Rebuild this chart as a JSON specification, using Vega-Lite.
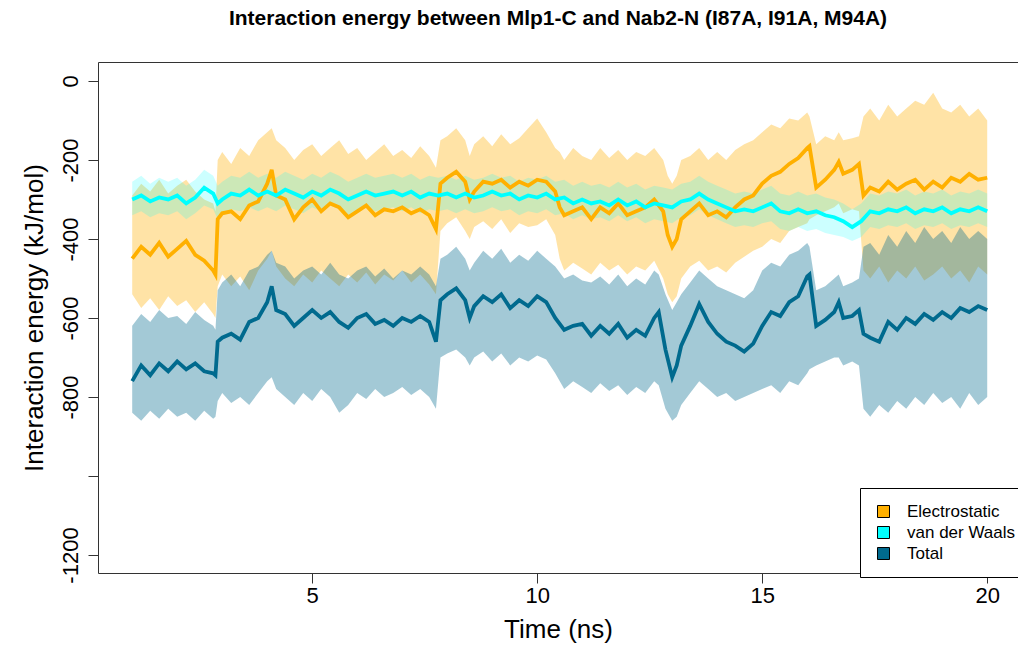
{
  "$schema": "https://vega.github.io/schema/vega-lite/v6.json",
  "autosize": {"type": "none"},
  "padding": {"left": 98, "top": 62, "right": 0, "bottom": 86},
  "width": 920,
  "height": 511,
  "background": "white",
  "title": {
    "text": "Interaction energy between Mlp1-C and Nab2-N (I87A, I91A, M94A)",
    "fontSize": 21,
    "fontWeight": "bold",
    "font": "Liberation Sans",
    "color": "black",
    "anchor": "middle",
    "frame": "group",
    "offset": 33
  },
  "config": {
    "font": "Liberation Sans",
    "view": {"stroke": "#333", "strokeWidth": 1},
    "axis": {"grid": false, "domain": false, "tickColor": "#333", "tickSize": 10, "labelColor": "black", "titleColor": "black", "titleFontWeight": "normal", "labelFont": "Liberation Sans", "titleFont": "Liberation Sans"}
  },
  "datasets": {
    "elec": [
      {"t":1.0,"y":-450,"lo":-540,"hi":-290},{"t":1.2,"y":-420,"lo":-575,"hi":-260},{"t":1.4,"y":-440,"lo":-550,"hi":-280},{"t":1.6,"y":-410,"lo":-580,"hi":-250},{"t":1.8,"y":-445,"lo":-545,"hi":-285},{"t":2.0,"y":-425,"lo":-570,"hi":-265},{"t":2.2,"y":-405,"lo":-555,"hi":-250},{"t":2.4,"y":-440,"lo":-585,"hi":-280},{"t":2.6,"y":-455,"lo":-560,"hi":-300},{"t":2.8,"y":-480,"lo":-590,"hi":-310},{"t":2.85,"y":-490,"lo":-600,"hi":-330},{"t":2.9,"y":-350,"lo":-520,"hi":-200},{"t":3.0,"y":-335,"lo":-490,"hi":-180},{"t":3.2,"y":-330,"lo":-520,"hi":-210},{"t":3.4,"y":-350,"lo":-495,"hi":-170},{"t":3.6,"y":-315,"lo":-530,"hi":-190},{"t":3.8,"y":-305,"lo":-480,"hi":-150},{"t":4.0,"y":-260,"lo":-450,"hi":-130},{"t":4.1,"y":-225,"lo":-430,"hi":-120},{"t":4.2,"y":-290,"lo":-470,"hi":-150},{"t":4.4,"y":-300,"lo":-500,"hi":-170},{"t":4.6,"y":-350,"lo":-520,"hi":-200},{"t":4.8,"y":-320,"lo":-490,"hi":-175},{"t":5.0,"y":-300,"lo":-510,"hi":-160},{"t":5.2,"y":-330,"lo":-480,"hi":-190},{"t":5.4,"y":-310,"lo":-500,"hi":-170},{"t":5.6,"y":-320,"lo":-520,"hi":-150},{"t":5.8,"y":-345,"lo":-490,"hi":-185},{"t":6.0,"y":-330,"lo":-510,"hi":-170},{"t":6.2,"y":-315,"lo":-485,"hi":-200},{"t":6.4,"y":-340,"lo":-515,"hi":-180},{"t":6.6,"y":-325,"lo":-490,"hi":-160},{"t":6.8,"y":-330,"lo":-505,"hi":-190},{"t":7.0,"y":-320,"lo":-480,"hi":-175},{"t":7.2,"y":-335,"lo":-510,"hi":-195},{"t":7.4,"y":-325,"lo":-490,"hi":-165},{"t":7.6,"y":-340,"lo":-515,"hi":-190},{"t":7.75,"y":-375,"lo":-540,"hi":-220},{"t":7.85,"y":-260,"lo":-380,"hi":-150},{"t":8.0,"y":-245,"lo":-360,"hi":-140},{"t":8.2,"y":-230,"lo":-345,"hi":-120},{"t":8.4,"y":-255,"lo":-380,"hi":-150},{"t":8.5,"y":-300,"lo":-400,"hi":-190},{"t":8.6,"y":-280,"lo":-370,"hi":-160},{"t":8.8,"y":-255,"lo":-355,"hi":-140},{"t":9.0,"y":-260,"lo":-375,"hi":-165},{"t":9.2,"y":-250,"lo":-350,"hi":-135},{"t":9.4,"y":-270,"lo":-385,"hi":-160},{"t":9.6,"y":-255,"lo":-360,"hi":-145},{"t":9.8,"y":-265,"lo":-370,"hi":-120},{"t":10.0,"y":-250,"lo":-365,"hi":-95},{"t":10.2,"y":-255,"lo":-350,"hi":-130},{"t":10.4,"y":-280,"lo":-390,"hi":-170},{"t":10.5,"y":-320,"lo":-450,"hi":-180},{"t":10.6,"y":-340,"lo":-480,"hi":-200},{"t":10.8,"y":-330,"lo":-460,"hi":-170},{"t":11.0,"y":-320,"lo":-475,"hi":-190},{"t":11.2,"y":-350,"lo":-490,"hi":-200},{"t":11.4,"y":-320,"lo":-460,"hi":-170},{"t":11.6,"y":-335,"lo":-480,"hi":-195},{"t":11.8,"y":-310,"lo":-465,"hi":-175},{"t":12.0,"y":-340,"lo":-490,"hi":-200},{"t":12.2,"y":-330,"lo":-470,"hi":-180},{"t":12.4,"y":-320,"lo":-480,"hi":-190},{"t":12.6,"y":-300,"lo":-455,"hi":-170},{"t":12.8,"y":-330,"lo":-500,"hi":-200},{"t":12.9,"y":-390,"lo":-540,"hi":-240},{"t":13.0,"y":-420,"lo":-560,"hi":-260},{"t":13.1,"y":-400,"lo":-545,"hi":-240},{"t":13.2,"y":-350,"lo":-500,"hi":-200},{"t":13.4,"y":-330,"lo":-470,"hi":-190},{"t":13.6,"y":-310,"lo":-455,"hi":-170},{"t":13.8,"y":-340,"lo":-480,"hi":-200},{"t":14.0,"y":-330,"lo":-470,"hi":-180},{"t":14.2,"y":-345,"lo":-485,"hi":-200},{"t":14.4,"y":-320,"lo":-460,"hi":-175},{"t":14.6,"y":-300,"lo":-445,"hi":-160},{"t":14.8,"y":-290,"lo":-430,"hi":-150},{"t":15.0,"y":-260,"lo":-420,"hi":-130},{"t":15.2,"y":-240,"lo":-400,"hi":-110},{"t":15.4,"y":-230,"lo":-410,"hi":-120},{"t":15.6,"y":-210,"lo":-380,"hi":-95},{"t":15.8,"y":-195,"lo":-370,"hi":-100},{"t":16.0,"y":-170,"lo":-360,"hi":-80},{"t":16.05,"y":-165,"lo":-350,"hi":-90},{"t":16.2,"y":-270,"lo":-340,"hi":-160},{"t":16.4,"y":-250,"lo":-330,"hi":-140},{"t":16.6,"y":-225,"lo":-320,"hi":-150},{"t":16.7,"y":-205,"lo":-310,"hi":-130},{"t":16.8,"y":-235,"lo":-335,"hi":-150},{"t":17.0,"y":-225,"lo":-325,"hi":-145},{"t":17.15,"y":-210,"lo":-330,"hi":-140},{"t":17.25,"y":-290,"lo":-480,"hi":-90},{"t":17.4,"y":-270,"lo":-500,"hi":-70},{"t":17.6,"y":-280,"lo":-470,"hi":-100},{"t":17.8,"y":-255,"lo":-510,"hi":-60},{"t":18.0,"y":-275,"lo":-480,"hi":-90},{"t":18.2,"y":-260,"lo":-500,"hi":-70},{"t":18.4,"y":-250,"lo":-470,"hi":-50},{"t":18.6,"y":-275,"lo":-505,"hi":-60},{"t":18.8,"y":-255,"lo":-490,"hi":-30},{"t":19.0,"y":-270,"lo":-470,"hi":-70},{"t":19.2,"y":-245,"lo":-500,"hi":-80},{"t":19.4,"y":-255,"lo":-480,"hi":-60},{"t":19.6,"y":-235,"lo":-510,"hi":-90},{"t":19.8,"y":-250,"lo":-470,"hi":-70},{"t":20.0,"y":-245,"lo":-490,"hi":-100}
    ],
    "vdw": [
      {"t":1.0,"y":-300,"lo":-340,"hi":-255},{"t":1.2,"y":-290,"lo":-330,"hi":-240},{"t":1.4,"y":-305,"lo":-345,"hi":-260},{"t":1.6,"y":-295,"lo":-335,"hi":-245},{"t":1.8,"y":-300,"lo":-340,"hi":-255},{"t":2.0,"y":-290,"lo":-330,"hi":-245},{"t":2.2,"y":-310,"lo":-350,"hi":-265},{"t":2.4,"y":-295,"lo":-335,"hi":-250},{"t":2.6,"y":-270,"lo":-315,"hi":-225},{"t":2.8,"y":-285,"lo":-325,"hi":-240},{"t":2.9,"y":-310,"lo":-350,"hi":-265},{"t":3.0,"y":-300,"lo":-340,"hi":-255},{"t":3.2,"y":-285,"lo":-325,"hi":-240},{"t":3.4,"y":-290,"lo":-330,"hi":-245},{"t":3.6,"y":-275,"lo":-320,"hi":-230},{"t":3.8,"y":-290,"lo":-330,"hi":-245},{"t":4.0,"y":-280,"lo":-320,"hi":-235},{"t":4.2,"y":-290,"lo":-330,"hi":-245},{"t":4.4,"y":-275,"lo":-315,"hi":-230},{"t":4.6,"y":-285,"lo":-325,"hi":-240},{"t":4.8,"y":-295,"lo":-335,"hi":-250},{"t":5.0,"y":-280,"lo":-320,"hi":-235},{"t":5.2,"y":-290,"lo":-330,"hi":-245},{"t":5.4,"y":-275,"lo":-315,"hi":-230},{"t":5.6,"y":-285,"lo":-325,"hi":-240},{"t":5.8,"y":-300,"lo":-340,"hi":-255},{"t":6.0,"y":-290,"lo":-330,"hi":-245},{"t":6.2,"y":-280,"lo":-320,"hi":-235},{"t":6.4,"y":-290,"lo":-330,"hi":-245},{"t":6.6,"y":-285,"lo":-325,"hi":-240},{"t":6.8,"y":-280,"lo":-320,"hi":-235},{"t":7.0,"y":-290,"lo":-330,"hi":-245},{"t":7.2,"y":-280,"lo":-320,"hi":-235},{"t":7.4,"y":-295,"lo":-335,"hi":-250},{"t":7.6,"y":-285,"lo":-325,"hi":-240},{"t":7.8,"y":-290,"lo":-330,"hi":-245},{"t":8.0,"y":-285,"lo":-325,"hi":-240},{"t":8.2,"y":-295,"lo":-335,"hi":-250},{"t":8.4,"y":-285,"lo":-325,"hi":-240},{"t":8.6,"y":-295,"lo":-335,"hi":-250},{"t":8.8,"y":-290,"lo":-330,"hi":-245},{"t":9.0,"y":-280,"lo":-320,"hi":-235},{"t":9.2,"y":-290,"lo":-330,"hi":-245},{"t":9.4,"y":-285,"lo":-325,"hi":-240},{"t":9.6,"y":-300,"lo":-340,"hi":-255},{"t":9.8,"y":-290,"lo":-330,"hi":-245},{"t":10.0,"y":-295,"lo":-335,"hi":-250},{"t":10.2,"y":-285,"lo":-325,"hi":-240},{"t":10.4,"y":-300,"lo":-340,"hi":-255},{"t":10.6,"y":-295,"lo":-335,"hi":-250},{"t":10.8,"y":-310,"lo":-350,"hi":-265},{"t":11.0,"y":-300,"lo":-340,"hi":-255},{"t":11.2,"y":-310,"lo":-350,"hi":-265},{"t":11.4,"y":-305,"lo":-345,"hi":-260},{"t":11.6,"y":-315,"lo":-355,"hi":-270},{"t":11.8,"y":-300,"lo":-340,"hi":-255},{"t":12.0,"y":-315,"lo":-355,"hi":-270},{"t":12.2,"y":-305,"lo":-345,"hi":-260},{"t":12.4,"y":-320,"lo":-360,"hi":-275},{"t":12.6,"y":-310,"lo":-350,"hi":-265},{"t":12.8,"y":-315,"lo":-355,"hi":-270},{"t":13.0,"y":-320,"lo":-360,"hi":-275},{"t":13.2,"y":-305,"lo":-345,"hi":-260},{"t":13.4,"y":-300,"lo":-340,"hi":-255},{"t":13.6,"y":-285,"lo":-325,"hi":-240},{"t":13.8,"y":-300,"lo":-340,"hi":-255},{"t":14.0,"y":-310,"lo":-350,"hi":-265},{"t":14.2,"y":-320,"lo":-360,"hi":-275},{"t":14.4,"y":-330,"lo":-370,"hi":-285},{"t":14.6,"y":-325,"lo":-365,"hi":-280},{"t":14.8,"y":-330,"lo":-370,"hi":-285},{"t":15.0,"y":-320,"lo":-360,"hi":-275},{"t":15.2,"y":-310,"lo":-355,"hi":-265},{"t":15.4,"y":-330,"lo":-375,"hi":-285},{"t":15.6,"y":-335,"lo":-380,"hi":-290},{"t":15.8,"y":-325,"lo":-370,"hi":-280},{"t":16.0,"y":-335,"lo":-380,"hi":-290},{"t":16.2,"y":-330,"lo":-375,"hi":-285},{"t":16.4,"y":-340,"lo":-385,"hi":-295},{"t":16.6,"y":-345,"lo":-390,"hi":-300},{"t":16.8,"y":-355,"lo":-395,"hi":-310},{"t":17.0,"y":-370,"lo":-405,"hi":-325},{"t":17.2,"y":-355,"lo":-395,"hi":-310},{"t":17.4,"y":-330,"lo":-370,"hi":-285},{"t":17.6,"y":-335,"lo":-375,"hi":-290},{"t":17.8,"y":-325,"lo":-365,"hi":-280},{"t":18.0,"y":-330,"lo":-370,"hi":-285},{"t":18.2,"y":-320,"lo":-360,"hi":-275},{"t":18.4,"y":-335,"lo":-375,"hi":-290},{"t":18.6,"y":-325,"lo":-365,"hi":-280},{"t":18.8,"y":-330,"lo":-370,"hi":-285},{"t":19.0,"y":-320,"lo":-360,"hi":-275},{"t":19.2,"y":-335,"lo":-375,"hi":-290},{"t":19.4,"y":-325,"lo":-365,"hi":-280},{"t":19.6,"y":-330,"lo":-370,"hi":-285},{"t":19.8,"y":-320,"lo":-360,"hi":-275},{"t":20.0,"y":-330,"lo":-370,"hi":-285}
    ],
    "total": [
      {"t":1.0,"y":-760,"lo":-840,"hi":-620},{"t":1.2,"y":-720,"lo":-860,"hi":-590},{"t":1.4,"y":-745,"lo":-835,"hi":-610},{"t":1.6,"y":-715,"lo":-855,"hi":-580},{"t":1.8,"y":-735,"lo":-830,"hi":-600},{"t":2.0,"y":-710,"lo":-850,"hi":-595},{"t":2.2,"y":-730,"lo":-840,"hi":-615},{"t":2.4,"y":-715,"lo":-860,"hi":-585},{"t":2.6,"y":-735,"lo":-835,"hi":-605},{"t":2.8,"y":-740,"lo":-855,"hi":-620},{"t":2.85,"y":-745,"lo":-850,"hi":-630},{"t":2.9,"y":-660,"lo":-810,"hi":-530},{"t":3.0,"y":-650,"lo":-790,"hi":-510},{"t":3.2,"y":-640,"lo":-815,"hi":-490},{"t":3.4,"y":-655,"lo":-800,"hi":-520},{"t":3.6,"y":-610,"lo":-820,"hi":-480},{"t":3.8,"y":-600,"lo":-790,"hi":-470},{"t":4.0,"y":-560,"lo":-760,"hi":-440},{"t":4.1,"y":-520,"lo":-750,"hi":-430},{"t":4.2,"y":-580,"lo":-780,"hi":-460},{"t":4.4,"y":-590,"lo":-800,"hi":-470},{"t":4.6,"y":-620,"lo":-820,"hi":-500},{"t":4.8,"y":-600,"lo":-790,"hi":-480},{"t":5.0,"y":-580,"lo":-810,"hi":-470},{"t":5.2,"y":-600,"lo":-780,"hi":-490},{"t":5.4,"y":-585,"lo":-800,"hi":-460},{"t":5.6,"y":-610,"lo":-840,"hi":-490},{"t":5.8,"y":-625,"lo":-820,"hi":-500},{"t":6.0,"y":-600,"lo":-790,"hi":-480},{"t":6.2,"y":-590,"lo":-805,"hi":-470},{"t":6.4,"y":-615,"lo":-780,"hi":-495},{"t":6.6,"y":-605,"lo":-800,"hi":-475},{"t":6.8,"y":-620,"lo":-790,"hi":-500},{"t":7.0,"y":-600,"lo":-775,"hi":-480},{"t":7.2,"y":-610,"lo":-795,"hi":-490},{"t":7.4,"y":-595,"lo":-780,"hi":-470},{"t":7.6,"y":-610,"lo":-800,"hi":-490},{"t":7.75,"y":-660,"lo":-830,"hi":-520},{"t":7.85,"y":-555,"lo":-700,"hi":-450},{"t":8.0,"y":-540,"lo":-690,"hi":-440},{"t":8.2,"y":-525,"lo":-680,"hi":-420},{"t":8.4,"y":-555,"lo":-700,"hi":-450},{"t":8.5,"y":-600,"lo":-720,"hi":-480},{"t":8.6,"y":-570,"lo":-700,"hi":-460},{"t":8.8,"y":-545,"lo":-685,"hi":-430},{"t":9.0,"y":-560,"lo":-710,"hi":-450},{"t":9.2,"y":-540,"lo":-690,"hi":-425},{"t":9.4,"y":-575,"lo":-720,"hi":-460},{"t":9.6,"y":-555,"lo":-700,"hi":-440},{"t":9.8,"y":-570,"lo":-710,"hi":-455},{"t":10.0,"y":-545,"lo":-695,"hi":-430},{"t":10.2,"y":-560,"lo":-705,"hi":-450},{"t":10.4,"y":-600,"lo":-740,"hi":-470},{"t":10.6,"y":-630,"lo":-780,"hi":-500},{"t":10.8,"y":-620,"lo":-760,"hi":-490},{"t":11.0,"y":-615,"lo":-775,"hi":-505},{"t":11.2,"y":-645,"lo":-790,"hi":-510},{"t":11.4,"y":-620,"lo":-765,"hi":-495},{"t":11.6,"y":-640,"lo":-785,"hi":-515},{"t":11.8,"y":-615,"lo":-770,"hi":-490},{"t":12.0,"y":-650,"lo":-795,"hi":-520},{"t":12.2,"y":-630,"lo":-775,"hi":-500},{"t":12.4,"y":-645,"lo":-790,"hi":-515},{"t":12.6,"y":-600,"lo":-760,"hi":-480},{"t":12.7,"y":-585,"lo":-770,"hi":-490},{"t":12.85,"y":-680,"lo":-830,"hi":-540},{"t":13.0,"y":-750,"lo":-860,"hi":-580},{"t":13.1,"y":-720,"lo":-850,"hi":-560},{"t":13.2,"y":-670,"lo":-820,"hi":-540},{"t":13.4,"y":-620,"lo":-790,"hi":-510},{"t":13.6,"y":-565,"lo":-760,"hi":-480},{"t":13.8,"y":-610,"lo":-780,"hi":-500},{"t":14.0,"y":-640,"lo":-800,"hi":-520},{"t":14.2,"y":-660,"lo":-790,"hi":-530},{"t":14.4,"y":-670,"lo":-810,"hi":-540},{"t":14.6,"y":-685,"lo":-800,"hi":-550},{"t":14.8,"y":-665,"lo":-790,"hi":-530},{"t":15.0,"y":-620,"lo":-780,"hi":-480},{"t":15.2,"y":-585,"lo":-770,"hi":-460},{"t":15.4,"y":-595,"lo":-790,"hi":-470},{"t":15.6,"y":-560,"lo":-760,"hi":-440},{"t":15.8,"y":-545,"lo":-770,"hi":-430},{"t":16.0,"y":-495,"lo":-740,"hi":-410},{"t":16.05,"y":-490,"lo":-730,"hi":-420},{"t":16.2,"y":-620,"lo":-720,"hi":-530},{"t":16.4,"y":-605,"lo":-710,"hi":-520},{"t":16.6,"y":-585,"lo":-700,"hi":-500},{"t":16.7,"y":-560,"lo":-700,"hi":-490},{"t":16.8,"y":-600,"lo":-720,"hi":-520},{"t":17.0,"y":-595,"lo":-710,"hi":-510},{"t":17.15,"y":-580,"lo":-720,"hi":-500},{"t":17.25,"y":-640,"lo":-830,"hi":-420},{"t":17.4,"y":-650,"lo":-850,"hi":-410},{"t":17.6,"y":-660,"lo":-820,"hi":-440},{"t":17.8,"y":-610,"lo":-840,"hi":-390},{"t":18.0,"y":-630,"lo":-810,"hi":-420},{"t":18.2,"y":-600,"lo":-830,"hi":-380},{"t":18.4,"y":-615,"lo":-800,"hi":-410},{"t":18.6,"y":-590,"lo":-820,"hi":-370},{"t":18.8,"y":-605,"lo":-790,"hi":-400},{"t":19.0,"y":-585,"lo":-815,"hi":-380},{"t":19.2,"y":-600,"lo":-800,"hi":-410},{"t":19.4,"y":-575,"lo":-830,"hi":-370},{"t":19.6,"y":-585,"lo":-790,"hi":-400},{"t":19.8,"y":-570,"lo":-820,"hi":-380},{"t":20.0,"y":-580,"lo":-800,"hi":-400}
    ]
  },
  "encoding": {
    "x": {
      "field": "t", "type": "quantitative",
      "scale": {"domain": [0.24, 20.684], "nice": false, "zero": false},
      "axis": {"values": [5, 10, 15, 20], "labelFontSize": 22, "labelPadding": 2, "title": "Time (ns)", "titleFontSize": 26, "titlePadding": 10}
    }
  },
  "layer": [
    {
      "data": {"name": "elec"},
      "mark": {"type": "area", "fillOpacity": 0.35, "strokeWidth": 0},
      "encoding": {
        "y": {"field": "lo", "type": "quantitative", "scale": {"domain": [-1245.6, 48], "nice": false, "zero": false},
          "axis": {"values": [0, -200, -400, -600, -800, -1000, -1200], "labelExpr": "datum.value == -1000 ? '' : '' + datum.value", "labelAngle": -90, "labelFontSize": 22, "labelPadding": 6, "title": "Interaction energy (kJ/mol)", "titleFontSize": 26, "titlePadding": 12}},
        "y2": {"field": "hi"},
        "color": {"datum": "Electrostatic", "type": "nominal",
          "scale": {"domain": ["Electrostatic", "van der Waals", "Total"], "range": ["#FFB000", "#00FFFF", "#006A8E"]},
          "legend": {"title": null, "orient": "none", "legendX": 762, "legendY": 426, "strokeColor": "black", "fillColor": "white", "padding": 15, "symbolType": "square", "symbolSize": 144, "symbolOpacity": 1, "symbolStrokeColor": "black", "symbolStrokeWidth": 1, "labelFontSize": 17, "labelColor": "black", "labelOffset": 15, "rowPadding": 3, "cornerRadius": 0,
            "encode": {"symbols": {"update": {"fillOpacity": {"value": 1}, "opacity": {"value": 1}, "stroke": {"value": "black"}, "strokeWidth": {"value": 1}}}}}
        }
      }
    },
    {
      "data": {"name": "vdw"},
      "mark": {"type": "area", "fillOpacity": 0.2, "strokeWidth": 0},
      "encoding": {
        "y": {"field": "lo", "type": "quantitative"},
        "y2": {"field": "hi"},
        "color": {"datum": "van der Waals", "type": "nominal"}
      }
    },
    {
      "data": {"name": "total"},
      "mark": {"type": "area", "fillOpacity": 0.36, "strokeWidth": 0},
      "encoding": {
        "y": {"field": "lo", "type": "quantitative"},
        "y2": {"field": "hi"},
        "color": {"datum": "Total", "type": "nominal"}
      }
    },
    {
      "data": {"name": "elec"},
      "mark": {"type": "line", "color": "#FFB000", "strokeWidth": 3.8},
      "encoding": {"y": {"field": "y", "type": "quantitative"}}
    },
    {
      "data": {"name": "vdw"},
      "mark": {"type": "line", "color": "#00FFFF", "strokeWidth": 3.8},
      "encoding": {"y": {"field": "y", "type": "quantitative"}}
    },
    {
      "data": {"name": "total"},
      "mark": {"type": "line", "color": "#006A8E", "strokeWidth": 3.8},
      "encoding": {"y": {"field": "y", "type": "quantitative"}}
    }
  ]
}
